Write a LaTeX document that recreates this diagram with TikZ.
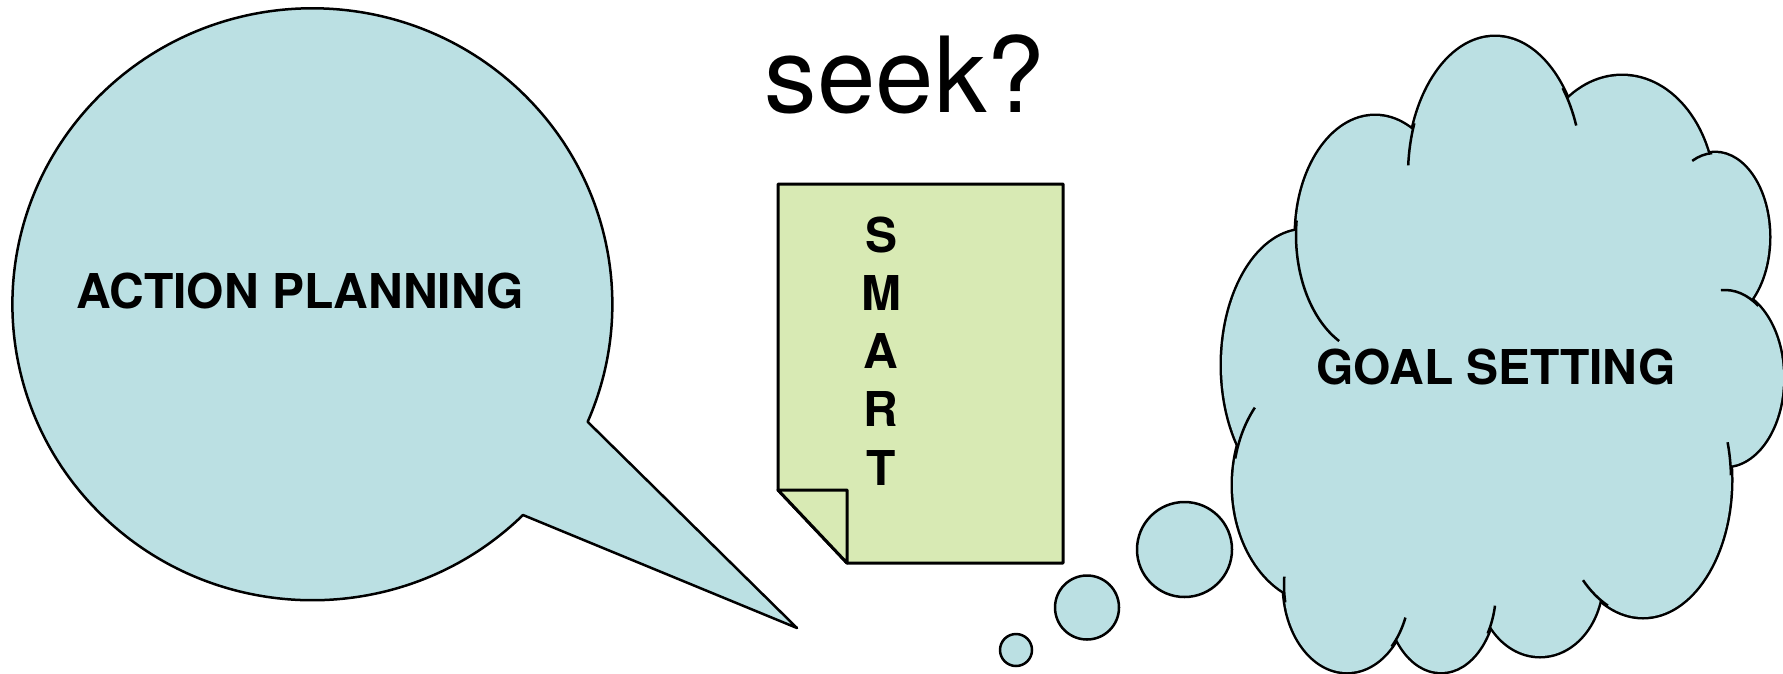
\documentclass[tikz,border=0pt]{standalone}
\usepackage{fontspec}
\setmainfont{TeX Gyre Heros}
\definecolor{bubble}{RGB}{187,224,227}
\definecolor{notegreen}{RGB}{216,234,180}
\begin{document}
\begin{tikzpicture}[x=1pt,y=-1pt,line join=round,
  outline/.style={draw=black,line width=2.5pt},
  noteline/.style={draw=black,line width=3pt},
  lobestroke/.style={draw=black,line width=5pt},
  tick/.style={draw=black,line width=2.5pt},
  bigbold/.style={font=\fontsize{48}{58}\selectfont\bfseries,inner sep=0pt,anchor=base},
  bigplain/.style={font=\fontsize{105}{120}\selectfont,inner sep=0pt,anchor=base}]
\useasboundingbox (0,0) rectangle (1783,673);

% speech bubble
\coordinate (tailA) at (523,515);
\coordinate (tip) at (797,628);
\draw[outline,fill=bubble] (tailA) arc[start angle=45.4,end angle=383.4,x radius=300,y radius=296] -- (tip) -- cycle;

% note page
\coordinate (n1) at (778,184);
\coordinate (n2) at (1063,184);
\coordinate (n3) at (1063,563);
\coordinate (n4) at (847,563);
\coordinate (n5) at (778,490);
\coordinate (n6) at (847,490);
\draw[noteline,fill=notegreen] (n1) -- (n2) -- (n3) -- (n4) -- (n5) -- cycle;
\draw[noteline,fill=notegreen] (n5) -- (n6) -- (n4) -- cycle;

% thought bubbles
\draw[outline,fill=bubble] (1184.5,549.5) circle[radius=47.5];
\draw[outline,fill=bubble] (1087,607.5) circle[radius=32];
\draw[outline,fill=bubble] (1016,650) circle[radius=16];

% cloud
\def\lobes{1495/175/87/138,1622/196/92/120,1715/237/54/84,1725/378/58/88,1643/480/88/137,1540/580/62/76,1441/590/55/82,1347/585/63/87,1322/485/89/118,1305/365/83/135,1375/235/79/119}
\foreach \cx/\cy/\rx/\ry in \lobes {
  \draw[lobestroke] (\cx,\cy) ellipse[x radius=\rx,y radius=\ry];
}
\foreach \cx/\cy/\rx/\ry in \lobes {
  \fill[bubble] (\cx,\cy) ellipse[x radius=\rx,y radius=\ry];
}
\fill[bubble] (1375,235) -- (1495,175) -- (1622,196) -- (1715,237) -- (1725,378) -- (1643,480) -- (1540,580) -- (1441,590) -- (1347,585) -- (1322,485) -- (1305,365) -- cycle;
% inner ticks
\foreach \cx/\cy/\rx/\ry/\ta/\tb in {
  1495/175/87/138/202/184,
  1495/175/87/138/-39/-21,
  1715/237/54/84/-93/-115,
  1725/378/58/88/-55/-94,
  1643/480/88/137/-2/-16,
  1643/480/88/137/113.5/133,
  1441/590/55/82/32/11,
  1347/585/63/87/45/22,
  1347/585/63/87/168.5/185.5,
  1322/485/89/118/193/221,
  1375/235/79/119/187/117} {
  \draw[tick] ({\cx+\rx*cos(\ta)},{\cy+\ry*sin(\ta)}) arc[start angle=\ta,end angle=\tb,x radius=\rx,y radius=\ry];
}

% texts
\node[bigplain] (seek) at (905,112) {seek?};
\node[bigbold] (ap) at (300,308) {ACTION PLANNING};
\node[bigbold] (gs) at (1496,384) {GOAL SETTING};
\node[bigbold] (s1) at (881,252) {S};
\node[bigbold] (s2) at (881,310) {M};
\node[bigbold] (s3) at (881,368) {A};
\node[bigbold] (s4) at (881,426) {R};
\node[bigbold] (s5) at (881,485) {T};
\end{tikzpicture}
\end{document}
